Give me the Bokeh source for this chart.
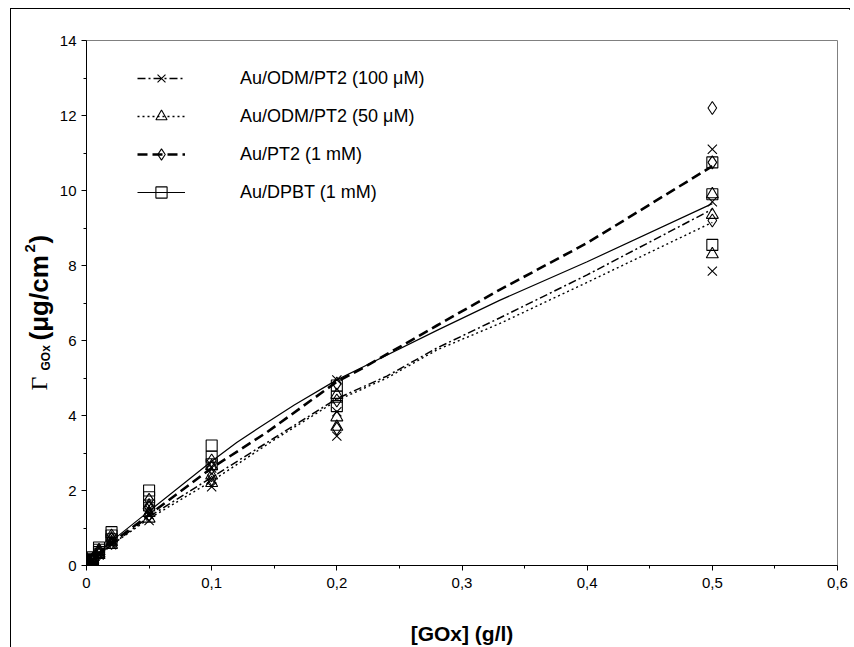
import math
from bokeh.plotting import figure
from bokeh.layouts import row
from bokeh.models import (Range1d, FixedTicker, CustomJSTickFormatter, Legend,
                          LegendItem)
from bokeh.core.properties import value
from bokeh.embed import file_html
from bokeh.resources import INLINE

# ---------------- data ----------------
conc = [0.001, 0.0025, 0.005, 0.01, 0.02, 0.05, 0.1, 0.2, 0.5]

odm100_r1 = [0.03, 0.08, 0.15, 0.35, 0.70, 1.50, 2.60, 4.95, 11.10]
odm100_r2 = [0.02, 0.06, 0.12, 0.30, 0.60, 1.35, 2.30, 4.10, 9.70]
odm100_r3 = [0.01, 0.05, 0.10, 0.28, 0.55, 1.20, 2.10, 3.45, 7.85]

odm50_r1 = [0.03, 0.09, 0.16, 0.38, 0.72, 1.60, 2.65, 4.55, 9.90]
odm50_r2 = [0.02, 0.06, 0.13, 0.32, 0.62, 1.40, 2.40, 3.95, 9.35]
odm50_r3 = [0.01, 0.05, 0.10, 0.28, 0.55, 1.25, 2.20, 3.70, 8.30]

pt2_r1 = [0.04, 0.10, 0.18, 0.42, 0.80, 1.75, 2.80, 4.85, 12.20]
pt2_r2 = [0.03, 0.08, 0.15, 0.36, 0.70, 1.55, 2.60, 4.40, 10.75]
pt2_r3 = [0.02, 0.06, 0.12, 0.30, 0.60, 1.35, 2.30, 3.65, 9.20]

dpbt_r1 = [0.05, 0.12, 0.22, 0.48, 0.89, 2.00, 3.20, 4.80, 10.75]
dpbt_r2 = [0.04, 0.10, 0.18, 0.42, 0.80, 1.82, 2.90, 4.50, 9.90]
dpbt_r3 = [0.03, 0.08, 0.15, 0.36, 0.70, 1.60, 2.70, 4.25, 8.55]

# fitted curves
fit_odm100_x = [0, 0.01, 0.02, 0.05, 0.10, 0.15, 0.20, 0.24, 0.28, 0.33, 0.40, 0.50]
fit_odm100_y = [0, 0.30, 0.55, 1.30, 2.35, 3.40, 4.45, 5.05, 5.80, 6.60, 7.75, 9.50]
fit_odm50_x = [0, 0.01, 0.02, 0.05, 0.10, 0.15, 0.20, 0.24, 0.28, 0.33, 0.40, 0.50]
fit_odm50_y = [0, 0.30, 0.55, 1.25, 2.25, 3.35, 4.40, 5.00, 5.75, 6.45, 7.55, 9.15]
fit_pt2_x = [0, 0.01, 0.02, 0.05, 0.10, 0.144, 0.20, 0.22, 0.28, 0.33, 0.40, 0.50]
fit_pt2_y = [0, 0.30, 0.60, 1.35, 2.60, 3.55, 4.90, 5.25, 6.40, 7.35, 8.60, 10.65]
fit_dpbt_x = [0, 0.01, 0.02, 0.05, 0.10, 0.12, 0.139, 0.166, 0.20, 0.22, 0.28, 0.33, 0.40, 0.50]
fit_dpbt_y = [0, 0.35, 0.65, 1.45, 2.78, 3.28, 3.70, 4.28, 4.95, 5.28, 6.27, 7.07, 8.10, 9.65]

names = ["Au/ODM/PT2 (100 \u03bcM)", "Au/ODM/PT2 (50 \u03bcM)",
         "Au/PT2 (1 mM)", "Au/DPBT (1 mM)"]

x_ticks = [0, 0.1, 0.2, 0.3, 0.4, 0.5, 0.6]
x_minor = [0.05, 0.15, 0.25, 0.35, 0.45, 0.55]
y_ticks = [0, 2, 4, 6, 8, 10, 12, 14]
y_minor = [1, 3, 5, 7, 9, 11, 13]

FONT = "Liberation Sans"
TOTAL_W, TOTAL_H = 840, 638
LW = 45  # width of the strip holding the rotated y title

# ---------------- main figure ----------------
yr = Range1d(0, 14)
p = figure(width=TOTAL_W - LW, height=TOTAL_H, output_backend="svg",
           toolbar_location=None,
           x_range=Range1d(0, 0.6), y_range=yr,
           min_border_left=75 - LW, min_border_right=14, min_border_top=31,
           min_border_bottom=82)
p.grid.visible = False
p.outline_line_color = "#808080"
p.outline_line_width = 1
p.background_fill_color = "white"
p.border_fill_color = "white"

for ax in (p.xaxis[0], p.yaxis[0]):
    ax.axis_line_color = "black"
    ax.axis_line_width = 1
    ax.major_tick_out = 5
    ax.major_tick_in = 0
    ax.minor_tick_out = 3
    ax.minor_tick_in = 0
    ax.major_tick_line_color = "black"
    ax.minor_tick_line_color = "black"
    ax.major_label_text_font = FONT
    ax.major_label_text_font_size = "15px"
    ax.major_label_text_color = "black"

p.xaxis.ticker = FixedTicker(ticks=x_ticks, minor_ticks=x_minor)
p.yaxis.ticker = FixedTicker(ticks=y_ticks, minor_ticks=y_minor)
p.xaxis.formatter = CustomJSTickFormatter(
    code="return tick == 0 ? '0' : tick.toFixed(1).replace('.', ',');")
p.yaxis.formatter = CustomJSTickFormatter(code="return tick.toFixed(0);")
p.xaxis.major_label_standoff = 7
p.yaxis.major_label_standoff = 5

p.xaxis.axis_label = "[GOx] (g/l)"
p.xaxis.axis_label_text_font = FONT
p.xaxis.axis_label_text_font_style = "bold"
p.xaxis.axis_label_text_font_size = "21px"
p.xaxis.axis_label_text_color = "black"
p.xaxis.axis_label_standoff = 31

# ---------------- series ----------------
series = [
    (fit_odm100_x, fit_odm100_y, [odm100_r1, odm100_r2, odm100_r3], "x",
     "8 3 2 3", 1.5, 13),
    (fit_odm50_x, fit_odm50_y, [odm50_r1, odm50_r2, odm50_r3], "triangle",
     "2 3", 1.4, 12),
    (fit_pt2_x, fit_pt2_y, [pt2_r1, pt2_r2, pt2_r3], "diamond",
     "10 5", 2.6, 13),
    (fit_dpbt_x, fit_dpbt_y, [dpbt_r1, dpbt_r2, dpbt_r3], "square",
     "solid", 1.2, 11),
]

items = []
line_rs = []
for (fx, fy, reps, marker, dash, lw, size), name in zip(series, names):
    lr = p.line(fx, fy, line_color="black", line_width=lw, line_dash=dash)
    line_rs.append(lr)

for (fx, fy, reps, marker, dash, lw, size), name, lr in zip(series, names, line_rs):
    xs, ys = [], []
    for r in reps:
        xs += conc
        ys += r
    sr = p.scatter(xs, ys, marker=marker, size=size, line_color="black",
                   line_width=1.1, fill_alpha=0)
    items.append(LegendItem(label=name, renderers=[lr, sr]))

legend = Legend(items=items, location=(51, 359), padding=0, margin=0,
                spacing=10, glyph_width=48, glyph_height=28, label_height=28,
                label_standoff=55, border_line_color=None,
                background_fill_alpha=0, label_text_font=FONT,
                label_text_font_size="18px", label_text_color="black")
p.add_layout(legend, "center")

# ---------------- y-title strip (shares the y range, so frames align) ----------------
t = figure(width=LW, height=TOTAL_H, output_backend="svg",
           toolbar_location=None, x_axis_type=None, y_axis_type=None,
           x_range=Range1d(0, LW), y_range=yr,
           min_border_left=0, min_border_right=0, min_border_top=31,
           min_border_bottom=82)
t.grid.visible = False
t.outline_line_color = None
t.background_fill_color = "white"
t.border_fill_color = "white"

PX_PER_UNIT = 525 / 14.0

# pieces: text, page y where text starts (bottom), page x centre, font, style, size
pieces = [
    ("\u0393", 390, 38, "Liberation Serif", "normal", "24px"),
    ("GOx", 370, 45, FONT, "bold", "12px"),
    ("(\u03bcg/cm", 340, 38, FONT, "bold", "26px"),
    ("2", 252, 29, FONT, "bold", "15px"),
    (")", 243, 38, FONT, "bold", "26px"),
]
for txt, py, px, font, style, size in pieces:
    t.text(x=[px - 11], y=[(565 - py) / PX_PER_UNIT], text=[txt],
           angle=math.pi / 2, text_align="left", text_baseline="middle",
           text_font=value(font), text_font_style=style,
           text_font_size=size, text_color="black")

layout = row(t, p)
layout.spacing = 0
layout.styles = {"margin-left": "10px", "margin-top": "8px",
                 "border-left": "1px solid #000", "border-top": "1px solid #000",
                 "border-right": "1px solid #000", "width": "%dpx" % TOTAL_W}

open("out.html", "w").write(file_html(layout, INLINE))
